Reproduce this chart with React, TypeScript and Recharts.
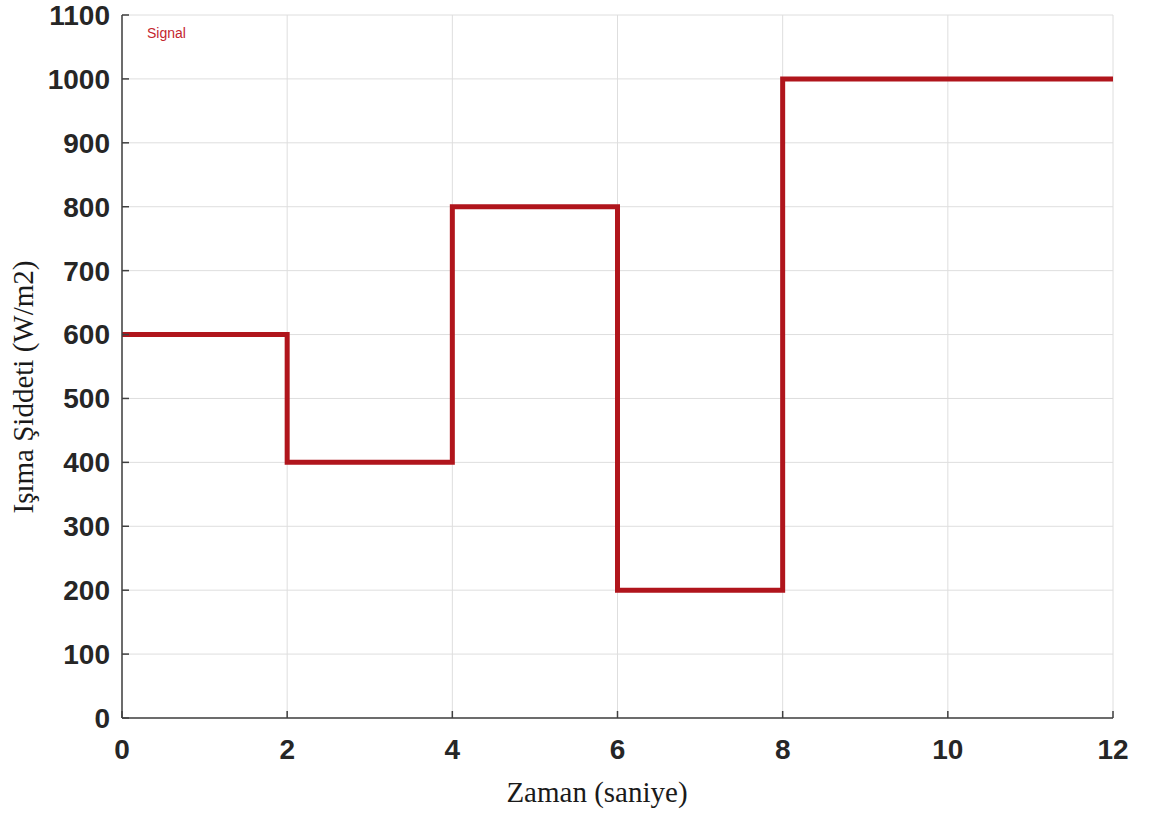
import React from 'react';
import {
  LineChart,
  Line,
  XAxis,
  YAxis,
  CartesianGrid,
  Legend,
  Label,
} from 'recharts';

// zaman (s) ve ışıma şiddeti (W/m2) - basamak sinyali
const times = [0, 2, 4, 6, 8, 12];
const irradiance = [600, 400, 800, 200, 1000, 1000];
const xTicks = [0, 2, 4, 6, 8, 10, 12];
const yTicks = [0, 100, 200, 300, 400, 500, 600, 700, 800, 900, 1000, 1100];

const data = times.map((t, i) => ({ t, value: irradiance[i] }));

const AXIS = '#404040';
const GRID = '#dedede';
const LINE = '#b0151c';
const tickStyle = {
  fill: '#262626',
  fontSize: 28,
  fontWeight: 700,
  fontFamily: '"Liberation Sans", Arial, sans-serif',
};
const labelFont = '"Liberation Serif", "Times New Roman", serif';

function SignalLegend() {
  return (
    <span
      style={{
        fontFamily: '"Liberation Sans", Arial, sans-serif',
        fontSize: 14,
        color: '#c4262e',
      }}
    >
      Signal
    </span>
  );
}

export default function App() {
  return (
    <div style={{ position: 'absolute', left: 0, top: 0, background: '#fff' }}>
      <LineChart
        width={1149}
        height={816}
        data={data}
        margin={{ top: 15, right: 36, left: 0, bottom: 0 }}
      >
        <CartesianGrid stroke={GRID} strokeWidth={1} />
        <XAxis
          type="number"
          dataKey="t"
          domain={[0, 12]}
          ticks={xTicks}
          height={98}
          stroke={AXIS}
          strokeWidth={1.5}
          tickSize={-7}
          tickMargin={28}
          tick={tickStyle}
          interval={0}
        >
          <Label
            content={() => (
              <text
                x={597}
                y={802}
                textAnchor="middle"
                fontFamily={labelFont}
                fontSize={29}
                fill="#1a1a1a"
              >
                Zaman (saniye)
              </text>
            )}
          />
        </XAxis>
        <YAxis
          type="number"
          domain={[0, 1100]}
          ticks={yTicks}
          width={122}
          stroke={AXIS}
          strokeWidth={1.5}
          tickSize={-7}
          tickMargin={19}
          tick={tickStyle}
          interval={0}
        >
          <Label
            content={() => (
              <text
                x={33}
                y={387}
                transform="rotate(-90, 33, 387)"
                textAnchor="middle"
                fontFamily={labelFont}
                fontSize={29}
                fill="#1a1a1a"
              >
                Işıma Şiddeti (W/m2)
              </text>
            )}
          />
        </YAxis>
        <Legend
          layout="horizontal"
          verticalAlign="middle"
          align="center"
          content={SignalLegend}
          wrapperStyle={{ position: 'absolute', left: 147, top: 24, width: 'auto' }}
        />
        <Line
          type="stepAfter"
          dataKey="value"
          name="Signal"
          stroke={LINE}
          strokeWidth={5}
          dot={false}
          isAnimationActive={false}
        />
      </LineChart>
    </div>
  );
}
